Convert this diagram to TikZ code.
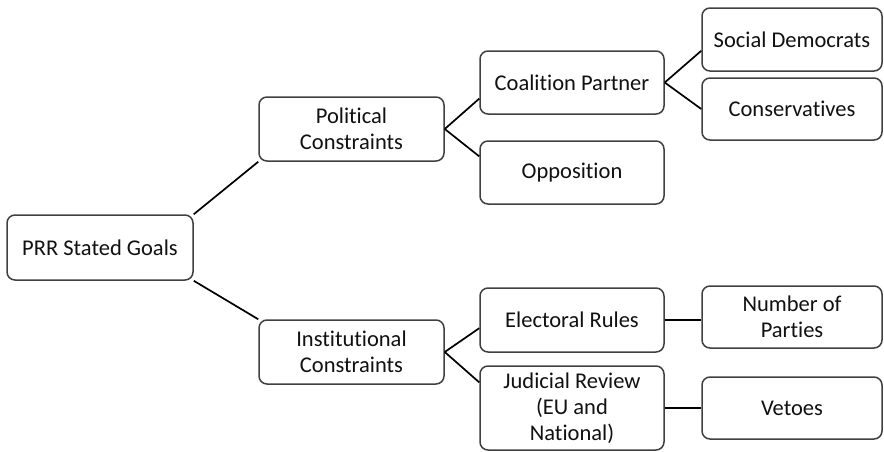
\documentclass[tikz,border=0pt]{standalone}
\usepackage{fontspec}
\setmainfont{Carlito}[Ligatures=NoCommon]
\usepackage{tikz}
\usetikzlibrary{calc,positioning}
\definecolor{boxline}{HTML}{404040}
\definecolor{boxtext}{HTML}{111111}

\begin{document}
\begin{tikzpicture}[x=1pt,y=-1pt,
    goalbox/.style={draw=boxline, line width=1.5pt, rounded corners=8pt,
      fill=white, text=boxtext, align=center, inner sep=1pt,
      font=\fontsize{22.5}{26}\selectfont},
    link/.style={draw=black, line width=1.7pt}]
  \useasboundingbox (0,0) rectangle (884,451);

  % root and first level
  \node[goalbox, minimum width=186pt, minimum height=65pt] (goals) at (100,247.5) {PRR Stated Goals};
  \node[goalbox, minimum width=185pt, minimum height=64pt] (political) at (351.5,129) {Political\\Constraints};
  \node[goalbox, minimum width=185pt, minimum height=64pt] (institutional) at (351.5,352) {Institutional\\Constraints};

  % second level
  \node[goalbox, minimum width=184pt, minimum height=63pt] (coalition) at (572,82.5) {Coalition Partner};
  \node[goalbox, minimum width=184pt, minimum height=63pt] (opposition) at (572,172.5) {Opposition};
  \node[goalbox, minimum width=184pt, minimum height=64pt] (electoral) at (572,320) {Electoral Rules};
  \node[goalbox, minimum width=184pt, minimum height=84pt] (judicial) at (572,408) {Judicial Review\\(EU and\\National)};

  % third level
  \node[goalbox, minimum width=180pt, minimum height=63pt] (socdem) at (792,39.5) {Social Democrats};
  \node[goalbox, minimum width=180pt, minimum height=62pt] (conserv) at (792,109) {Conservatives};
  \node[goalbox, minimum width=180pt, minimum height=62pt] (parties) at (792,317) {Number of\\Parties};
  \node[goalbox, minimum width=180pt, minimum height=62pt] (vetoes) at (792,408) {Vetoes};

  % connectors
  \draw[link] (goals.north east) -- (political.south west);
  \draw[link] (goals.south east) -- (institutional.north west);
  \draw[link] (political.east) -- ($(coalition.west)!0.5!(coalition.south west)$);
  \draw[link] (political.east) -- ($(opposition.west)!0.5!(opposition.north west)$);
  \draw[link] (coalition.east) -- ($(socdem.west)!0.35!(socdem.south west)$);
  \draw[link] (coalition.east) -- (conserv.west);
  \draw[link] (institutional.east) -- ($(electoral.west)!0.25!(electoral.south west)$);
  \draw[link] (institutional.east) -- ($(judicial.west)!0.6!(judicial.north west)$);
  \draw[link] (electoral.east) -- (electoral.east -| parties.west);
  \draw[link] (judicial.east) -- (judicial.east -| vetoes.west);
\end{tikzpicture}
\end{document}
